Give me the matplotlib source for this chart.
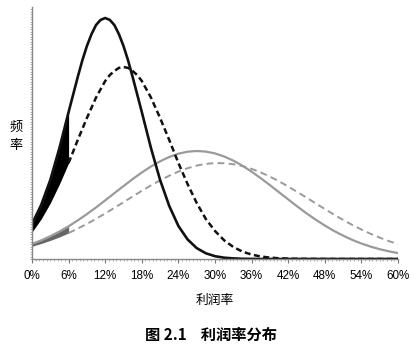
import numpy as np
import matplotlib.pyplot as plt
from matplotlib.ticker import MultipleLocator

# profit rate (%) sample points and frequency readings
x = [0, 1.5, 3, 4.5, 6, 7.5, 9, 10.5, 12, 13.5, 15, 16.5, 18, 19.5, 21, 22.5,
     24, 25.5, 27, 28.5, 30, 31.5, 33, 34.5, 36, 37.5, 39, 40.5, 42, 43.5, 45,
     46.5, 48, 49.5, 51, 52.5, 54, 55.5, 57, 58.5, 60]

# black curves read more densely around their peaks
x_black_solid = [0, 1.5, 3, 4.5, 6, 7.5, 8.25, 9, 9.75, 10.5, 11.25, 12, 12.75,
                 13.5, 14.25, 15, 15.75, 16.5, 18, 19.5, 21, 22.5, 24, 25.5, 27,
                 28.5, 30, 31.5, 33, 34.5, 36, 37.5, 39, 42, 48, 54, 60]
black_solid = [35, 54, 79, 111, 147, 182, 198.6, 213, 224.8, 234, 239.1, 241,
               239.1, 234, 224.8, 213, 198.6, 182, 147, 111, 79, 53, 33, 19.6,
               10.9, 5.7, 2.8, 1.3, 0.6, 0.2, 0.1, 0, 0, 0, 0, 0, 0]

x_black_dashed = [0, 1.5, 3, 4.5, 6, 7.5, 9, 10.5, 12, 12.75, 13.5, 14.25, 15,
                  15.75, 16.5, 17.25, 18, 19.5, 21, 22.5, 24, 25.5, 27, 28.5,
                  30, 31.5, 33, 34.5, 36, 37.5, 39, 40.5, 42, 43.5, 45, 48, 54, 60]
black_dashed = [27, 40, 56, 75, 96, 119, 141, 161.5, 178, 183.9, 188, 191.1,
                192, 191.1, 188, 183.9, 178, 161.5, 141, 119, 96, 75, 56, 40,
                28, 18.7, 12, 7.4, 4.4, 2.5, 1.4, 0.7, 0.4, 0.2, 0.1, 0, 0, 0]

gray_solid = [15.1, 18.6, 22.8, 27.5, 32.7, 38.6, 44.9, 51.6, 58.6, 65.8, 72.9,
              79.9, 86.5, 92.5, 97.7, 102, 105.3, 107.3, 108, 107.4, 105.6,
              102.5, 98.4, 93.3, 87.3, 80.8, 73.9, 66.7, 59.6, 52.5, 45.7, 39.4,
              33.5, 28.1, 23.4, 19.1, 15.5, 12.4, 9.8, 7.7, 5.9]

gray_dashed = [12.7, 15.5, 18.6, 22.1, 26, 30.4, 35.1, 40.2, 45.5, 51.1, 56.8,
               62.5, 68.2, 73.6, 78.7, 83.3, 87.4, 90.8, 93.4, 95.1, 95.9, 95.8,
               94.8, 92.9, 90.1, 86.6, 82.4, 77.7, 72.5, 67, 61.4, 55.6, 50,
               44.4, 39.1, 34.1, 29.5, 25.2, 21.4, 17.9, 14.9]

xticks = [0, 6, 12, 18, 24, 30, 36, 42, 48, 54, 60]
xtick_labels = ['0%', '6%', '12%', '18%', '24%', '30%', '36%', '42%', '48%', '54%', '60%']

cjk = ['Noto Sans CJK SC', 'DejaVu Sans']
plt.rcParams['font.family'] = ['Liberation Sans', 'DejaVu Sans']

fig = plt.figure(figsize=(4.2, 3.48), dpi=100)
ax = fig.add_axes([32 / 420, 89 / 348, 366 / 420, 252 / 348])

# shaded part below 6% (first 5 points of each curve)
n = 5
ax.fill_between(x[:n], gray_dashed[:n], gray_solid[:n], color='#666666', lw=0)
ax.fill_between(x_black_solid[:n], black_dashed[:n], black_solid[:n], color='black', lw=0)

ax.plot(x, gray_solid, color='#9a9a9a', lw=1.6, solid_joinstyle='round')
ax.plot(x[n - 1:], gray_dashed[n - 1:], color='#9a9a9a', lw=1.4, ls=(0, (3.5, 2.2)))
ax.plot(x_black_dashed[n - 1:], black_dashed[n - 1:], color='#111111', lw=1.8,
        ls=(0, (2.4, 1.4)))
ax.plot(x_black_solid, black_solid, color='#111111', lw=1.9, solid_joinstyle='round')

ax.set_xlim(0, 60)
ax.set_ylim(0, 252)
ax.set_xticks(xticks)
ax.set_xticklabels(xtick_labels, fontsize=8.4)
ax.set_yticks([])
ax.xaxis.set_minor_locator(MultipleLocator(0.6))
ax.yaxis.set_minor_locator(MultipleLocator(2.5))
ax.tick_params(axis='x', which='major', length=3, width=0.8, color='#777777', pad=5)
ax.tick_params(axis='both', which='minor', length=1.2, width=0.5, color='#999999')

for s in ['top', 'right']:
    ax.spines[s].set_visible(False)
for s in ['left', 'bottom']:
    ax.spines[s].set_color('#888888')
    ax.spines[s].set_linewidth(1.0)

fig.text(16 / 420, 1 - 127 / 348, '频', family=cjk, fontsize=9.5, ha='center', va='center')
fig.text(16 / 420, 1 - 145 / 348, '率', family=cjk, fontsize=9.5, ha='center', va='center')
fig.text(215 / 420, 1 - 300 / 348, '利润率', family=cjk, fontsize=9.2, ha='center', va='center')
fig.text(211 / 420, 1 - 335 / 348, '图 2.1    利润率分布', family=cjk, fontsize=11,
         fontweight='bold', ha='center', va='center')

fig.savefig('out.png', dpi=100)
